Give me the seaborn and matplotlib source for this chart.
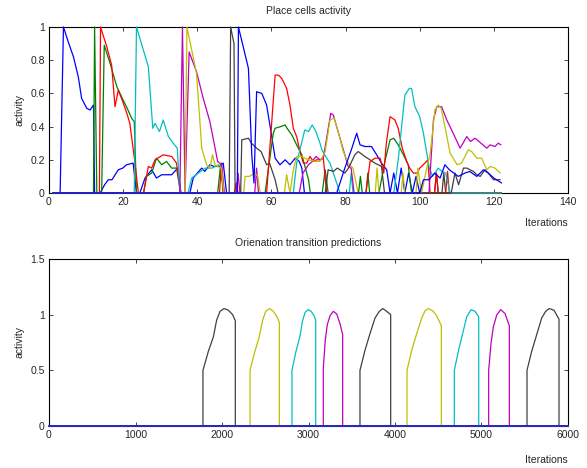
import numpy as np
import pandas as pd
import seaborn as sns
import matplotlib
matplotlib.use('Agg')
from matplotlib import pyplot as plt
from matplotlib.ticker import FormatStrFormatter

# place cell traces (iteration, activity)
cell01_x = [1, 3, 3.9, 5.2, 6.6, 7.9, 8.8, 10.2, 11.1, 12, 12.3, 13.8, 15, 16, 17, 18.7, 19.9, 20.9, 22.7, 23.6, 24.5, 25.9, 27.7, 29, 30.4, 33.1, 34.7, 35.6, 38, 38.9, 40, 41.2, 42, 43.4, 44.5, 46, 47, 47.9, 122]
cell01_y = [0, 0, 1.0, 0.91, 0.82, 0.70, 0.57, 0.51, 0.50, 0.53, 0, 0, 0.05, 0.08, 0.08, 0.14, 0.15, 0.17, 0.18, 0, 0, 0.09, 0.14, 0.09, 0.11, 0.11, 0.15, 0, 0, 0.09, 0.12, 0.15, 0.13, 0.17, 0.16, 0.16, 0.18, 0, 0]
cell02_x = [1, 12, 12.3, 12.9, 14.2, 14.9, 16.5, 18.3, 20, 21.1, 22.3, 23, 23.6, 25.5, 26.3, 27.7, 29, 30.4, 31.7, 33.1, 34.4, 35.5, 45.5, 46.3, 47, 122]
cell02_y = [0, 0, 1, 0, 0, 0.89, 0.78, 0.64, 0.56, 0.51, 0.45, 0.43, 0, 0, 0.10, 0.12, 0.21, 0.17, 0.19, 0.15, 0.15, 0, 0, 0.17, 0, 0]
cell03_x = [1, 13.6, 13.9, 15.6, 16.9, 17.8, 18.7, 19.9, 21, 21.8, 23.2, 24.1, 25.5, 26.8, 27.7, 28.6, 30.8, 33.1, 34.4, 35.5, 46, 46.5, 47, 50, 50.5, 51, 122]
cell03_y = [0, 0, 1, 0.88, 0.77, 0.52, 0.62, 0.55, 0.48, 0.42, 0.18, 0, 0, 0.16, 0.15, 0.20, 0.23, 0.22, 0.18, 0, 0, 0.18, 0, 0, 0.06, 0, 0]
cell04_x = [1, 23, 23.6, 26.8, 28, 28.6, 29.8, 30.8, 32.2, 33.5, 34.6, 35.3, 37.5, 38.5, 40.3, 42.1, 44, 45.7, 46.5, 47.2, 122]
cell04_y = [0, 0, 1, 0.76, 0.39, 0.42, 0.37, 0.44, 0.34, 0.30, 0.27, 0, 0, 0.09, 0.12, 0.15, 0.15, 0.17, 0.16, 0, 0]
cell05_x = [1, 35.3, 36, 36.7, 37.8, 39.8, 41.6, 43.4, 44.8, 45.5, 46.6, 47.3, 50.5, 51, 51.5, 55.5, 56, 56.5, 122]
cell05_y = [0, 0, 1, 0, 0.85, 0.73, 0.57, 0.43, 0.27, 0.19, 0.17, 0, 0, 0.12, 0, 0, 0.15, 0, 0]
cell06_x = [1, 36.7, 37.2, 39.8, 41.2, 42.5, 43.4, 44.1, 44.8, 45.5, 46.5, 47.2, 52.5, 52.9, 54, 55.6, 56.3, 57, 122]
cell06_y = [0, 0, 1, 0.72, 0.27, 0.17, 0.15, 0.23, 0.17, 0.16, 0.15, 0, 0, 0.10, 0.10, 0.12, 0.10, 0, 0]
cell07_x = [1, 48.6, 49.0, 49.9, 50.2, 51.7, 52, 53.8, 54.6, 56, 57.2, 58.7, 59.5, 61, 61.8, 122]
cell07_y = [0, 0, 1, 0.9, 0, 0, 0.32, 0.33, 0.30, 0.27, 0.25, 0.17, 0.18, 0.08, 0, 0]
cell08_x = [1, 50.8, 51.1, 52.4, 53.8, 54.7, 55.3, 56, 57.4, 58.7, 59.8, 61, 62.3, 63.7, 65, 66.4, 67.5, 68.2, 68.9, 122]
cell08_y = [0, 0, 1, 0.88, 0.75, 0.23, 0.06, 0.61, 0.60, 0.53, 0.38, 0.21, 0.17, 0.20, 0.17, 0.21, 0.19, 0.15, 0, 0]
cell09_x = [1, 58.3, 59.2, 60.5, 61, 62.5, 63.7, 64.2, 65.5, 66.8, 68.2, 70, 70.5, 73.7, 74.5, 75.3, 122]
cell09_y = [0, 0, 0.15, 0.36, 0.39, 0.40, 0.41, 0.39, 0.35, 0.29, 0.23, 0.08, 0, 0, 0.14, 0, 0]
cell10_x = [1, 58.7, 61, 61.9, 62.8, 64.1, 65, 65.9, 66.8, 67.7, 68.6, 69.5, 70.4, 71.3, 72.2, 73.1, 74, 74.9, 122]
cell10_y = [0, 0, 0.71, 0.71, 0.69, 0.63, 0.53, 0.39, 0.34, 0.25, 0.18, 0.18, 0.22, 0.19, 0.20, 0.20, 0.21, 0, 0]
cell11_x = [1, 65.9, 66.8, 69, 70, 71, 72, 73.1, 73.6, 74.9, 75.8, 77, 78.5, 81, 81.5, 82, 122]
cell11_y = [0, 0, 0.18, 0.38, 0.37, 0.41, 0.37, 0.30, 0.26, 0.21, 0.18, 0.10, 0, 0, 0.12, 0, 0]
cell12_x = [1, 67.5, 68.5, 70, 71, 72, 73.1, 74, 76, 76.7, 78.5, 79.8, 80.7, 81.5, 82.3, 122]
cell12_y = [0, 0, 0.12, 0.17, 0.19, 0.22, 0.20, 0.21, 0.48, 0.47, 0.33, 0.23, 0.16, 0.15, 0, 0]
cell13_x = [1, 63.5, 64.1, 65, 66, 66.8, 68, 70, 72, 73.1, 74.5, 75.8, 76.9, 78, 79.4, 80.7, 82, 83.4, 122]
cell13_y = [0, 0, 0.11, 0, 0.15, 0.22, 0.22, 0.20, 0.19, 0.19, 0.25, 0.44, 0.45, 0.37, 0.25, 0.18, 0.15, 0, 0]
cell14_x = [1, 74.5, 75.3, 76.7, 77.8, 79.8, 80.8, 82.5, 83.4, 85.2, 86.6, 87.9, 89.7, 90.5, 104, 104.5, 105, 106, 106.5, 107, 122]
cell14_y = [0, 0, 0.14, 0.13, 0.15, 0.12, 0.15, 0.23, 0.25, 0.22, 0.20, 0.18, 0.16, 0, 0, 0.12, 0, 0, 0.12, 0, 0]
cell15_x = [1, 77.6, 79.8, 81.7, 83, 83.9, 85.2, 87, 88.4, 89.7, 91.1, 92, 93, 94, 95, 96, 97, 98, 99, 100, 122]
cell15_y = [0, 0, 0.15, 0.27, 0.36, 0.29, 0.28, 0.28, 0.23, 0.18, 0.14, 0, 0.12, 0, 0.15, 0, 0.12, 0, 0.10, 0, 0]
cell16_x = [1, 83.5, 84, 84.5, 85.5, 86, 86.5, 89, 90.6, 92, 93, 94.2, 95.6, 96.9, 97.8, 122]
cell16_y = [0, 0, 0.10, 0, 0, 0.12, 0, 0, 0.19, 0.32, 0.33, 0.29, 0.23, 0.17, 0, 0]
cell17_x = [1, 85.5, 86.6, 88, 89.3, 90.3, 91, 92, 93.3, 94.2, 95.3, 96.5, 97.3, 98.3, 99.3, 100, 101.4, 102.2, 102.8, 104, 104.5, 105, 107, 107.5, 108, 122]
cell17_y = [0, 0, 0.19, 0.21, 0.21, 0.12, 0.30, 0.46, 0.44, 0.39, 0.27, 0.19, 0.15, 0.12, 0.12, 0.15, 0.18, 0.20, 0, 0, 0.12, 0, 0, 0.13, 0, 0]
cell18_x = [1, 93, 94.2, 96, 97.2, 97.8, 98.7, 100, 101, 101.9, 102.6, 103.5, 105, 106, 107, 108.2, 122]
cell18_y = [0, 0, 0.20, 0.59, 0.63, 0.63, 0.52, 0.46, 0.36, 0.24, 0.15, 0.10, 0.15, 0.13, 0.12, 0, 0]
cell19_x = [1, 102.5, 103.7, 104.6, 105.9, 107.3, 108.6, 110.9, 112.7, 113.7, 114.9, 116, 118.1, 119, 120.3, 121.2, 121.9]
cell19_y = [0, 0, 0.44, 0.52, 0.52, 0.44, 0.38, 0.27, 0.34, 0.31, 0.33, 0.31, 0.27, 0.29, 0.28, 0.30, 0.29]
cell20_x = [1, 88, 88.5, 89, 95, 95.5, 96, 99, 99.5, 100.5, 101.9, 102.8, 104.1, 105, 105.8, 106.8, 108.2, 110.1, 111.3, 113.1, 114, 115.4, 116.7, 118.1, 119, 120.3, 121.7]
cell20_y = [0, 0, 0.15, 0, 0, 0.12, 0, 0, 0.15, 0, 0.15, 0.23, 0.50, 0.53, 0.51, 0.40, 0.24, 0.17, 0.18, 0.26, 0.25, 0.21, 0.21, 0.14, 0.16, 0.15, 0.12]
cell21_x = [1, 108.5, 109.5, 110.5, 111.8, 112.7, 114.5, 115.4, 116.3, 117.6, 118.5, 119.9, 121.7]
cell21_y = [0, 0, 0.12, 0.05, 0.15, 0.15, 0.13, 0.11, 0.10, 0.14, 0.12, 0.08, 0.08]
cell22_x = [1, 100, 101, 102.5, 104, 105.5, 106.8, 108, 110.4, 112.2, 113.5, 115.4, 117.2, 118.5, 120, 122.1]
cell22_y = [0, 0, 0.08, 0.08, 0.12, 0.09, 0.17, 0.14, 0.10, 0.12, 0.13, 0.10, 0.14, 0.12, 0.09, 0.06]

# orientation transition bumps (iteration, activity)
bump1_x = [1780, 1842, 1900, 1938, 1977, 2023, 2073, 2123, 2154]
bump1_y = [0.5, 0.67, 0.80, 0.95, 1.03, 1.055, 1.04, 1.0, 0.945]
bump2_x = [2324, 2380, 2430, 2470, 2505, 2550, 2595, 2635, 2663]
bump2_y = [0.5, 0.67, 0.80, 0.95, 1.03, 1.055, 1.03, 0.98, 0.93]
bump3_x = [2809, 2855, 2900, 2930, 2960, 2995, 3030, 3065, 3083]
bump3_y = [0.5, 0.67, 0.80, 0.94, 1.02, 1.045, 1.03, 0.99, 0.95]
bump4_x = [3171, 3194, 3217, 3249, 3287, 3326, 3364, 3395]
bump4_y = [0.52, 0.77, 0.91, 0.99, 1.03, 1.006, 0.92, 0.82]
bump5_x = [3595, 3653, 3711, 3769, 3819, 3858, 3896, 3950]
bump5_y = [0.5, 0.68, 0.83, 0.97, 1.03, 1.055, 1.035, 1.0]
bump6_x = [4139, 4193, 4251, 4309, 4347, 4386, 4436, 4482, 4536]
bump6_y = [0.5, 0.68, 0.83, 0.97, 1.035, 1.055, 1.035, 0.99, 0.90]
bump7_x = [4686, 4732, 4782, 4829, 4879, 4925, 4968]
bump7_y = [0.5, 0.67, 0.83, 0.98, 1.045, 1.03, 0.98]
bump8_x = [5083, 5110, 5137, 5176, 5222, 5272, 5322]
bump8_y = [0.5, 0.74, 0.89, 0.997, 1.045, 1.01, 0.90]
bump9_x = [5526, 5580, 5638, 5696, 5742, 5784, 5838, 5896]
bump9_y = [0.5, 0.67, 0.82, 0.97, 1.03, 1.055, 1.04, 0.96]

mb = (0, 0, 1); mg = (0, 0.5, 0); mr = (1, 0, 0); mc = (0, 0.75, 0.75)
mm = (0.75, 0, 0.75); my = (0.75, 0.75, 0); mk = (0.25, 0.25, 0.25)
cycle = [mb, mg, mr, mc, mm, my, mk]

cells = [(cell01_x, cell01_y), (cell02_x, cell02_y), (cell03_x, cell03_y), (cell04_x, cell04_y),
         (cell05_x, cell05_y), (cell06_x, cell06_y), (cell07_x, cell07_y), (cell08_x, cell08_y),
         (cell09_x, cell09_y), (cell10_x, cell10_y), (cell11_x, cell11_y), (cell12_x, cell12_y),
         (cell13_x, cell13_y), (cell14_x, cell14_y), (cell15_x, cell15_y), (cell16_x, cell16_y),
         (cell17_x, cell17_y), (cell18_x, cell18_y), (cell19_x, cell19_y), (cell20_x, cell20_y),
         (cell21_x, cell21_y), (cell22_x, cell22_y)]
bumps = [(bump1_x, bump1_y, mk), (bump2_x, bump2_y, my), (bump3_x, bump3_y, mc), (bump4_x, bump4_y, mm),
         (bump5_x, bump5_y, mk), (bump6_x, bump6_y, my), (bump7_x, bump7_y, mc), (bump8_x, bump8_y, mm),
         (bump9_x, bump9_y, mk)]

sns.set_theme(style='ticks')
plt.rcParams['font.family'] = ['Liberation Sans', 'DejaVu Sans']
plt.rcParams['xtick.direction'] = 'in'
plt.rcParams['ytick.direction'] = 'in'
plt.rcParams['axes.linewidth'] = 0.8

fig = plt.figure(figsize=(5.87, 4.68), dpi=100)
ax1 = fig.add_axes([49/587, 1-193/468, 519/587, 166/468])
ax2 = fig.add_axes([49/587, 1-426/468, 519/587, 167/468])

fs = 7.5
for i, (xs, ys) in enumerate(cells):
    sns.lineplot(x=xs, y=ys, color=cycle[i % 7], lw=0.9, estimator=None, sort=False,
                 clip_on=False, ax=ax1)

for xs, ys, c in bumps:
    lx = [0, xs[0]] + xs + [xs[-1], 6000]
    ly = [0, 0] + ys + [0, 0]
    sns.lineplot(x=lx, y=ly, color=c, lw=0.9, estimator=None, sort=False, clip_on=False, ax=ax2)
sns.lineplot(x=[0, 6000], y=[0, 0], color=(0.15, 0.15, 0.8), lw=1.3, estimator=None, sort=False,
             clip_on=False, ax=ax2)

ax1.set_xlim(0, 140)
ax1.set_ylim(0, 1)
ax1.set_xticks(range(0, 141, 20))
ax1.set_yticks(np.arange(0, 1.01, 0.2))
ax1.set_title('Place cells activity', fontsize=fs, pad=9)
ax1.set_ylabel('activity', fontsize=fs)
ax1.set_xlabel('Iterations', fontsize=fs, loc='right', labelpad=8)

ax2.set_xlim(0, 6000)
ax2.set_ylim(0, 1.5)
ax2.set_xticks(range(0, 6001, 1000))
ax2.set_yticks([0, 0.5, 1, 1.5])
ax2.set_title('Orienation transition predictions', fontsize=fs, pad=9)
ax2.set_ylabel('activity', fontsize=fs)
ax2.set_xlabel('Iterations', fontsize=fs, loc='right', labelpad=11)

for ax in (ax1, ax2):
    ax.yaxis.set_major_formatter(FormatStrFormatter('%g'))
    ax.tick_params(labelsize=fs, length=3, width=0.6, top=True, right=True, pad=3)
    for s in ax.spines.values():
        s.set_color('black')
        s.set_zorder(1)

fig.savefig('out.png', dpi=100)
